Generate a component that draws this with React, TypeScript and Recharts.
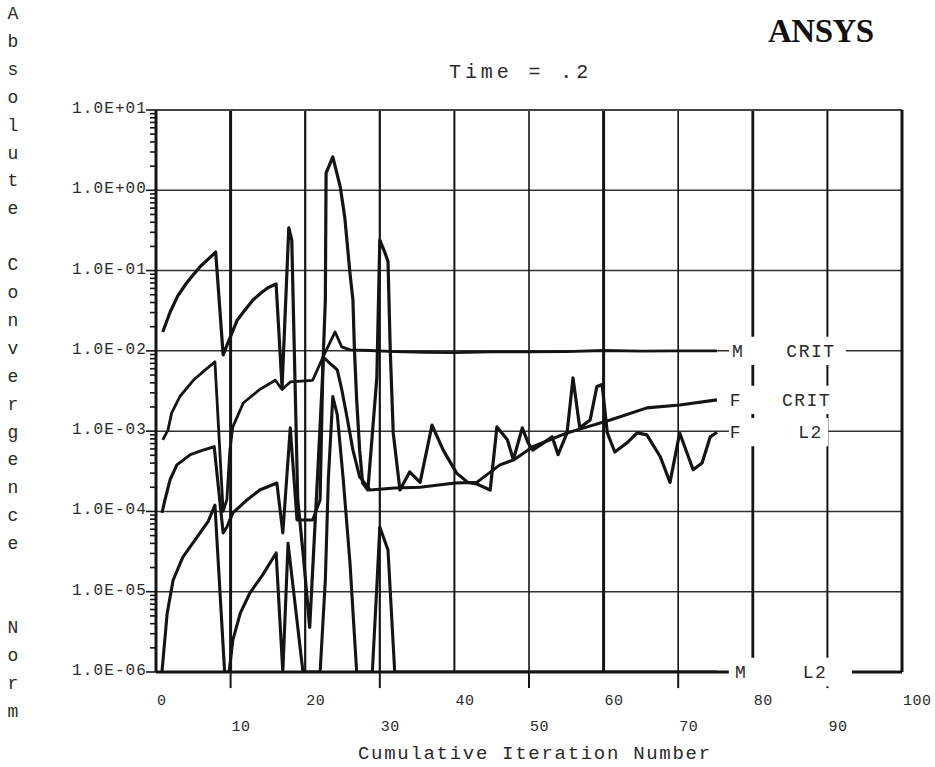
import React from "react";
import {
  LineChart,
  Line,
  XAxis,
  YAxis,
  ReferenceLine,
  ReferenceArea,
  ReferenceDot,
} from "recharts";

const WIDTH = 935;
const HEIGHT = 767;
const MONO = '"Liberation Mono", "DejaVu Sans Mono", monospace';
const INK = "#141414";
const TEXT = "#2a2a2a";

// F L2 : force convergence norm
const FL2_ITER = [
  0.9, 1.9, 2.9, 4.0, 5.1, 6.0, 7.0, 8.0, 9.0, 9.8, 10.9, 11.9, 13.0, 14.1, 15.0, 16.1,
  16.9, 17.8, 18.2, 19.0, 19.8, 20.6, 21.7, 22.3, 22.7, 22.8, 23.7, 24.7, 25.3, 26.0,
  26.4, 26.6, 26.9, 27.3, 27.7, 28.4, 29.6, 30.0, 30.7, 31.1, 31.4, 31.8, 32.7, 34.0,
  35.4, 37.0, 38.5, 40.3, 41.8, 43.0, 44.8, 45.7, 47.1, 47.9, 49.1, 49.9, 50.5, 51.9,
  53.1, 53.9, 55.1, 55.9, 56.8, 58.2, 59.1, 59.8, 60.5, 61.5, 63.1, 64.5, 65.8, 67.6,
  68.9, 70.2, 72.0, 73.2, 74.3, 75.2,
];
const FL2_NORM = [
  0.0172, 0.0305, 0.048, 0.068, 0.091, 0.114, 0.139, 0.17, 0.0089, 0.0137, 0.0243, 0.032,
  0.043, 0.053, 0.061, 0.068, 0.0035, 0.34, 0.24, 0.00014, 0.000025, 0.0000036, 0.00033,
  0.0043, 0.043, 1.64, 2.6, 1.1, 0.466, 0.093, 0.043, 0.0103, 0.00245, 0.00058, 0.000226,
  0.000185, 0.0046, 0.24, 0.166, 0.13, 0.0103, 0.00095, 0.000185, 0.00031, 0.00023,
  0.00119, 0.00058, 0.0003, 0.00023, 0.00022, 0.000185, 0.00113, 0.00078, 0.00044, 0.0011,
  0.00071, 0.00058, 0.00071, 0.00085, 0.00051, 0.00095, 0.0046, 0.0011, 0.00138, 0.0036,
  0.0038, 0.00095, 0.00055, 0.00071, 0.00095, 0.0009, 0.00048, 0.00023, 0.00095, 0.00033,
  0.0004, 0.00085, 0.00097,
];

// F CRIT : force convergence criterion
const FCRIT_ITER = [
  0.8, 1.2, 1.9, 2.8, 4.6, 6.3, 7.8, 9.0, 9.5, 10.3, 12.2, 13.9, 16.2, 17.0, 18.0, 18.9,
  21.0, 22.0, 22.4, 23.1, 24.3, 24.9, 25.6, 26.4, 27.3, 28.7, 32.0, 35.4, 40.1, 43.0,
  46.1, 48.0, 50.5, 55.1, 57.8, 60.9, 65.8, 70.2, 75.2,
];
const FCRIT_NORM = [
  0.0000957, 0.000139, 0.00025, 0.00038, 0.00051, 0.00058, 0.00064, 0.000054, 0.000064,
  0.0000957, 0.000139, 0.000185, 0.000226, 0.000054, 0.0011, 0.0000783, 0.0000783,
  0.00014, 0.0084, 0.0073, 0.0058, 0.0033, 0.0015, 0.00058, 0.00027, 0.000185, 0.000196,
  0.0002, 0.000226, 0.00023, 0.00038, 0.00044, 0.00064, 0.00095, 0.00113, 0.00138,
  0.00195, 0.00212, 0.00245,
];

// M CRIT : moment convergence criterion
const MCRIT_ITER = [
  0.9, 1.6, 2.1, 3.2, 5.0, 6.6, 7.9, 9.0, 9.5, 9.9, 10.3, 11.7, 13.9, 16.0, 16.9, 18.0,
  21.0, 22.4, 24.0, 24.9, 26.0, 28.7, 32.0, 36.0, 40.0, 45.0, 50.0, 55.0, 60.0, 65.0,
  70.0, 75.2,
];
const MCRIT_NORM = [
  0.00078, 0.00103, 0.00169, 0.0027, 0.0043, 0.0058, 0.0073, 0.0001, 0.00014, 0.00058,
  0.00113, 0.00224, 0.0033, 0.0043, 0.0033, 0.0041, 0.0043, 0.0084, 0.0172, 0.0112,
  0.0103, 0.0101, 0.0098, 0.0096, 0.0095, 0.0097, 0.0097, 0.0098, 0.0101, 0.0099, 0.01,
  0.01,
];

// M L2 : moment convergence norm
const ML2_ITER = [
  0.8, 1.5, 2.3, 3.6, 5.5, 7.0, 7.9, 9.2, 9.8, 10.3, 11.3, 12.6, 14.3, 16.1, 17.0, 17.7,
  19.7, 21.7, 22.0, 22.7, 23.1, 23.7, 24.3, 25.1, 26.0, 26.9, 29.0, 29.6, 30.0, 31.1,
  32.0, 75.2,
];
const ML2_NORM = [
  0.000001, 0.0000054, 0.000014, 0.000027, 0.000048, 0.000075, 0.00012, 0.000001,
  0.000001, 0.0000025, 0.0000054, 0.0000097, 0.0000162, 0.0000304, 0.000001, 0.00004,
  0.000001, 0.000001, 0.000001, 0.000014, 0.00025, 0.0027, 0.0016, 0.00025, 0.000023,
  0.000001, 0.000001, 0.0000115, 0.000064, 0.000033, 0.000001, 0.000001,
];

const X_TICKS = [0, 10, 20, 30, 40, 50, 60, 70, 80, 90, 100];
const X_GRID = [10, 20, 30, 40, 50, 60, 70, 80, 90];
const X_GRID_WIDTH = [3, 2.2, 2.2, 2, 1.6, 3, 1.6, 2.8, 2];
const Y_DECADES = [-6, -5, -4, -3, -2, -1, 0, 1];

const Y_TICKS = Y_DECADES.flatMap((d) =>
  d === 1 ? [10] : [1, 2, 3, 4, 5, 6, 7, 8, 9].map((k) => k * Number(`1e${d}`))
);

const pts = (xs: number[], vs: number[]) => xs.map((x, i) => ({ x, v: vs[i] }));

const SERIES = [
  { id: "MCRIT", data: pts(MCRIT_ITER, MCRIT_NORM), width: 2.8 },
  { id: "FCRIT", data: pts(FCRIT_ITER, FCRIT_NORM), width: 3.1 },
  { id: "FL2", data: pts(FL2_ITER, FL2_NORM), width: 3.2 },
  { id: "ML2", data: pts(ML2_ITER, ML2_NORM), width: 3.1 },
];

// curve labels at the right edge (x in iteration units)
const BAND_START = 76.8;
const LABELS = [
  { id: "MCRIT", left: "M", right: "CRIT", leftX: 77.2, rightX: 84.5, bandEnd: 92.5 },
  { id: "FCRIT", left: "F", right: "CRIT", leftX: 76.9, rightX: 83.9, bandEnd: 92.5 },
  { id: "FL2", left: "F", right: "L2", leftX: 76.9, rightX: 86.1, bandEnd: 90.1 },
  { id: "ML2", left: "M", right: "L2", leftX: 77.6, rightX: 86.7, bandEnd: 93.3 },
];

const Y_TITLE = "Absolute Convergence Norm";

function sciLabel(v: number) {
  const d = Math.round(Math.log10(v));
  return `1.0E${d < 0 ? "-" : "+"}${String(Math.abs(d)).padStart(2, "0")}`;
}

function YTick(props: any) {
  const { x, y, payload } = props;
  const lg = Math.log10(payload.value);
  const major = Math.abs(lg - Math.round(lg)) < 1e-6;
  return (
    <g>
      <line x1={x - (major ? 10 : 6)} x2={x} y1={y} y2={y} stroke={INK} strokeWidth={1.6} />
      {major && (
        <text
          x={x - 9}
          y={y + 3}
          textAnchor="end"
          fontFamily={MONO}
          fontSize={16}
          fill={TEXT}
          style={{ letterSpacing: "1.1px" }}
        >
          {sciLabel(payload.value)}
        </text>
      )}
    </g>
  );
}

function XTick(props: any) {
  const { x, y, payload } = props;
  const low = Math.round(payload.value / 10) % 2 === 1;
  return (
    <text
      x={x + 1}
      y={y + (low ? 59 : 33)}
      fontFamily={MONO}
      fontSize={15}
      fill={TEXT}
      style={{ letterSpacing: "0.5px" }}
    >
      {payload.value}
    </text>
  );
}

export default function App() {
  const lastOf = (id: string) => {
    const s = SERIES.find((d) => d.id === id)!;
    return s.data[s.data.length - 1].v;
  };
  // lower-row x labels get a short tick under the axis
  const lowTicks = X_TICKS.filter((t) => Math.round(t / 10) % 2 === 1);

  return (
    <div style={{ position: "absolute", left: 0, top: 0, width: WIDTH, height: HEIGHT, background: "#fff" }}>
      <LineChart width={WIDTH} height={HEIGHT} margin={{ top: 110, right: 33, bottom: 0, left: 0 }}>
        <XAxis
          type="number"
          dataKey="x"
          domain={[0, 100]}
          ticks={X_TICKS}
          interval={0}
          height={95}
          axisLine={false}
          tickLine={false}
          tickSize={0}
          tickMargin={0}
          tick={(p: any) => <XTick {...p} />}
          allowDataOverflow
        />
        <YAxis
          type="number"
          scale="log"
          domain={[1e-6, 10]}
          ticks={Y_TICKS}
          interval={0}
          width={156}
          axisLine={{ stroke: INK, strokeWidth: 3 }}
          tickLine={false}
          tickSize={0}
          tickMargin={0}
          tick={(p: any) => <YTick {...p} />}
          allowDataOverflow
        />

        {Y_DECADES.filter((d) => d > -6 && d < 1).map((d) => (
          <ReferenceLine key={`h${d}`} y={Number(`1e${d}`)} stroke="#333" strokeWidth={1.5} zIndex={-100} />
        ))}
        {X_GRID.map((g, i) => (
          <ReferenceLine key={`v${g}`} x={g} stroke={INK} strokeWidth={X_GRID_WIDTH[i]} zIndex={-100} />
        ))}
        {lowTicks.map((t) => (
          <ReferenceLine
            key={`t${t}`}
            segment={[{ x: t, y: 1e-6 }, { x: t, y: 6.3e-7 }]}
            stroke={INK}
            strokeWidth={2}
            ifOverflow="visible"
            zIndex={-100}
          />
        ))}
        <ReferenceLine y={10} stroke="#444" strokeWidth={2} zIndex={-100} />
        <ReferenceLine x={100} stroke={INK} strokeWidth={3} zIndex={-100} />
        <ReferenceLine
          segment={[{ x: 0, y: 1e-6 }, { x: BAND_START, y: 1e-6 }]}
          stroke={INK}
          strokeWidth={3}
          zIndex={-100}
        />
        <ReferenceLine
          segment={[{ x: LABELS[3].bandEnd, y: 1e-6 }, { x: 100, y: 1e-6 }]}
          stroke={INK}
          strokeWidth={3}
          zIndex={-100}
        />

        {SERIES.map((s) => (
          <Line
            key={s.id}
            data={s.data}
            dataKey="v"
            type="linear"
            stroke={INK}
            strokeWidth={s.width}
            strokeLinejoin="round"
            dot={false}
            activeDot={false}
            isAnimationActive={false}
          />
        ))}

        {LABELS.map((l) => {
          const v = lastOf(l.id);
          return (
            <ReferenceArea
              key={`band-${l.id}`}
              x1={BAND_START}
              x2={l.bandEnd}
              y1={v / 1.5}
              y2={v * 1.5}
              fill="#fff"
              fillOpacity={1}
              stroke="none"
              ifOverflow="visible"
              zIndex={1500}
            />
          );
        })}
        {LABELS.flatMap((l) => {
          const v = lastOf(l.id);
          return [
            { key: `${l.id}-a`, x: l.leftX, text: l.left },
            { key: `${l.id}-b`, x: l.rightX, text: l.right },
          ].map((t) => (
            <ReferenceDot
              key={t.key}
              x={t.x}
              y={v}
              r={1}
              ifOverflow="visible"
              zIndex={2100}
              shape={(p: any) => (
                <text
                  x={p.cx}
                  y={p.cy + 6}
                  fontFamily={MONO}
                  fontSize={18}
                  fill={TEXT}
                  style={{ letterSpacing: "1.5px" }}
                >
                  {t.text}
                </text>
              )}
            />
          ));
        })}
      </LineChart>

      <svg
        width={WIDTH}
        height={HEIGHT}
        style={{ position: "absolute", left: 0, top: 0, pointerEvents: "none" }}
      >
        <text
          x={768}
          y={42}
          fontFamily='"Liberation Serif", serif'
          fontWeight={700}
          fontSize={33}
          fill="#111"
          style={{ letterSpacing: "-0.5px" }}
        >
          ANSYS
        </text>
        <text x={449} y={78} fontFamily={MONO} fontSize={20} fill={TEXT} style={{ letterSpacing: "3.9px" }}>
          Time = .2
        </text>
        <text x={358} y={759} fontFamily={MONO} fontSize={19} fill={TEXT} style={{ letterSpacing: "1.7px" }}>
          Cumulative Iteration Number
        </text>
        <text fontFamily={MONO} fontSize={18} fill={TEXT} textAnchor="middle">
          {Y_TITLE.split("").map((c, i) => (
            <tspan key={i} x={13} y={14 + (i + (i > 20 ? 1 : 0)) * 27.9 + 5}>
              {c}
            </tspan>
          ))}
        </text>
      </svg>
    </div>
  );
}
